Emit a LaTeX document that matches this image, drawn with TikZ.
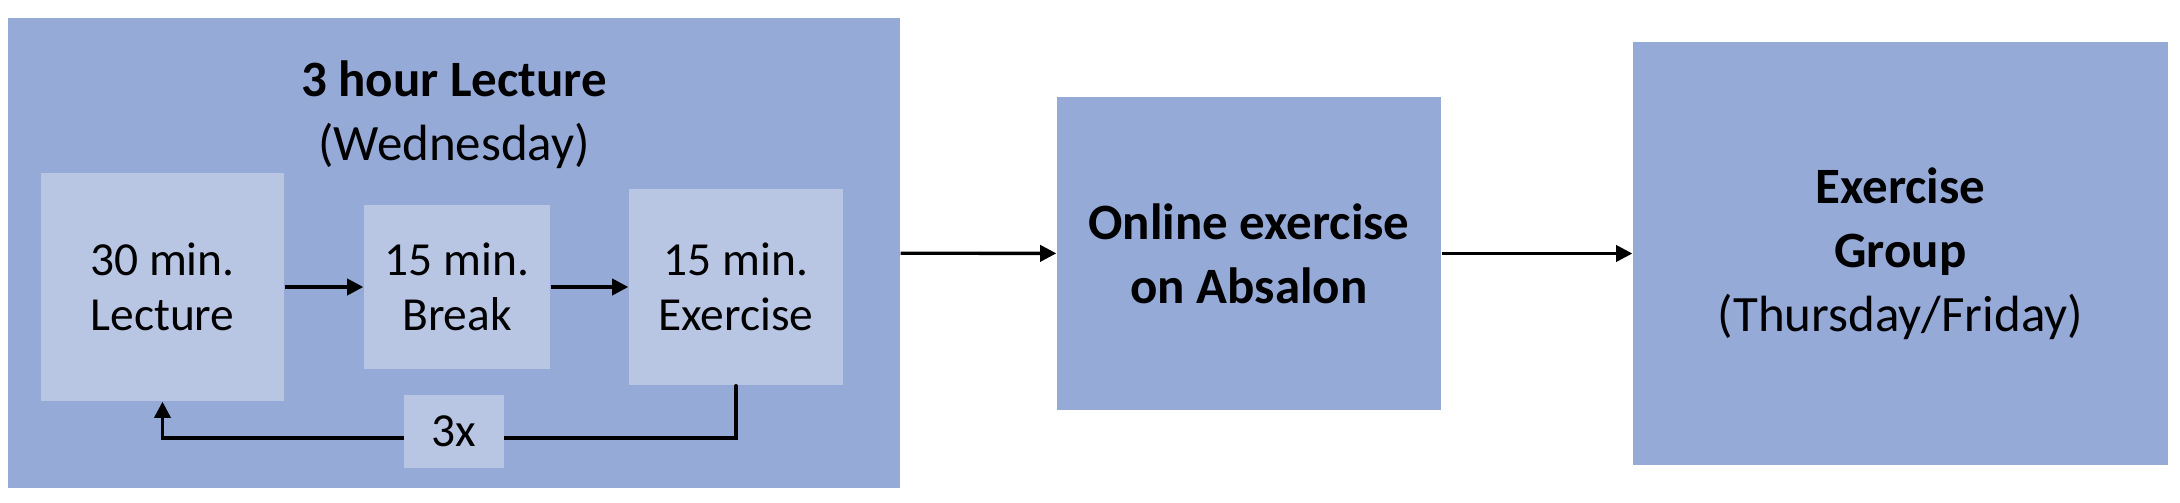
\documentclass[tikz,border=0pt]{standalone}
\usepackage{fontspec}
\setmainfont{Carlito}
\usepackage{tikz}
\usetikzlibrary{arrows.meta,positioning}
\definecolor{outerblue}{RGB}{150,170,216}
\definecolor{innerblue}{RGB}{184,198,228}

\begin{document}
\begin{tikzpicture}[>={Triangle[length=4.6pt,width=4.6pt]},
    outerbox/.style={fill=outerblue, inner sep=0pt, align=center,
                     font=\fontsize{14.5}{18.2}\selectfont},
    innerbox/.style={fill=innerblue, inner sep=0pt, align=center,
                     font=\fontsize{13.5}{15.6}\selectfont},
    flow/.style={->, line width=0.95pt}]
  \useasboundingbox (0,0) rectangle (21.8,5.02);

  % ---- Left: lecture block ----
  \node[outerbox, minimum width=8.92cm, minimum height=4.70cm] (lecblock) at (4.54, 2.49) {};
  \node[font=\fontsize{14.5}{18.2}\selectfont, align=center] (lectitle) at (4.54, 3.875)
    {\textbf{3 hour Lecture}\\(Wednesday)};
  \node[innerbox, minimum width=2.43cm, minimum height=2.28cm] (lecture) at (1.625, 2.15)
    {30 min.\\Lecture};
  \node[innerbox, minimum width=1.86cm, minimum height=1.64cm] (break) at (4.57, 2.15)
    {15 min.\\Break};
  \node[innerbox, minimum width=2.14cm, minimum height=1.96cm] (exercise) at (7.36, 2.15)
    {15 min.\\Exercise};
  \draw[flow] (lecture) -- (break);
  \draw[flow] (break) -- (exercise);
  % repeat loop
  \coordinate (loopy) at (4.54, 0.64);
  \draw[flow, line cap=round] (exercise.south) |- (loopy) -| (lecture.south);
  \node[innerbox, minimum width=1.00cm, minimum height=0.73cm] (repeat) at (4.54, 0.705) {3x};

  % ---- Middle: online exercise ----
  \node[outerbox, minimum width=3.84cm, minimum height=3.13cm] (online) at (12.49, 2.485)
    {\textbf{Online exercise}\\\textbf{on Absalon}};

  % ---- Right: exercise group ----
  \node[outerbox, minimum width=5.35cm, minimum height=4.23cm] (group) at (19.005, 2.485)
    {\textbf{Exercise}\\\textbf{Group}\\(Thursday/Friday)};

  \draw[flow] (lecblock) -- (online);
  \draw[flow] (online) -- (group);
\end{tikzpicture}
\end{document}
